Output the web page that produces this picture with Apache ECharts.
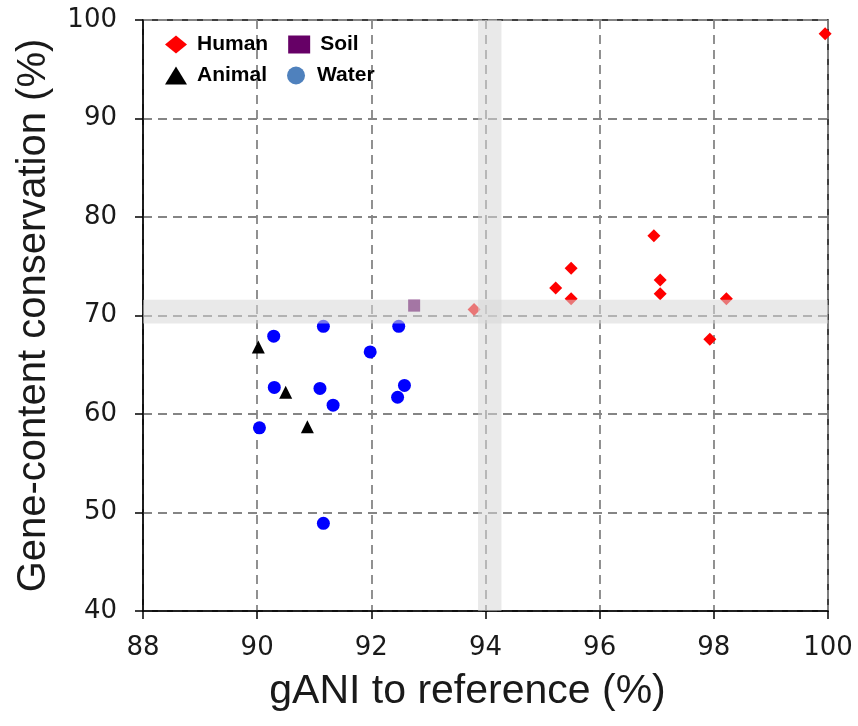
<!DOCTYPE html>
<html>
<head>
<meta charset="utf-8">
<title>Gene-content conservation vs gANI</title>
<script src="https://cdn.jsdelivr.net/npm/echarts@6/dist/echarts.min.js"></script>
<style>
  html, body { margin: 0; padding: 0; background: #fff; }
  #chart { width: 858px; height: 726px; }
</style>
</head>
<body>
<div id="chart"></div>
<script>
// [gANI %, gene-content conservation %]
const human = [
  [99.95, 98.6], [96.95, 78.1], [95.5, 74.8], [95.23, 72.8], [95.5, 71.7],
  [97.06, 73.6], [97.06, 72.2], [98.22, 71.7], [97.93, 67.6], [93.8, 70.6]
];
const soil = [[92.75, 71.0]];
const animal = [[90.02, 66.8], [90.5, 62.2], [90.88, 58.7]];
const water = [
  [90.29, 67.9], [91.16, 68.9], [92.48, 68.9], [91.98, 66.3], [90.3, 62.7],
  [91.1, 62.6], [91.33, 60.9], [92.58, 62.9], [92.46, 61.7], [90.04, 58.6],
  [91.16, 48.9]
];

// shaded threshold bands
const xBand = [93.87, 94.28];
const yBand = [69.2, 71.6];

const xTicks = { min: 88, max: 100, interval: 2 };
const yTicks = { min: 40, max: 100, interval: 10 };

const chart = echarts.init(document.getElementById('chart'));

const dashed = { show: true, lineStyle: { color: '#858585', width: 1.8, type: [9, 6] } };
const blackLine = { show: true, onZero: false, lineStyle: { color: '#000', width: 1.5 } };
const tick = { show: true, inside: false, length: 8, lineStyle: { color: '#000', width: 1.5 } };

const legendText = { fontFamily: 'Liberation Sans, Arial', fontWeight: 'bold', fontSize: 21, color: '#000', padding: [0, 0, 0, 5] };

chart.setOption({
  animation: false,
  grid: { left: 143, right: 30, top: 20, bottom: 115, show: true, borderColor: '#000', borderWidth: 1.5 },
  legend: [
    {
      left: 160, top: 29, itemWidth: 22, itemHeight: 18, itemGap: 20, symbolKeepAspect: false,
      textStyle: legendText,
      data: [
        { name: 'Human', icon: 'diamond', itemStyle: { color: '#ff0000' } },
        { name: 'Soil', icon: 'rect', itemStyle: { color: '#660066' } }
      ]
    },
    {
      left: 160, top: 60, itemWidth: 22, itemHeight: 18, itemGap: 20, symbolKeepAspect: false,
      textStyle: legendText,
      data: [
        { name: 'Animal', icon: 'triangle', itemStyle: { color: '#000' } },
        { name: 'Water', icon: 'circle', itemStyle: { color: '#4f81bd' } }
      ]
    }
  ],
  xAxis: {
    type: 'value', min: xTicks.min, max: xTicks.max, interval: xTicks.interval,
    name: 'gANI to reference (%)', nameLocation: 'middle', nameGap: 60,
    nameTextStyle: { fontFamily: 'Liberation Sans, Arial', fontSize: 41, color: '#1a1a1a', padding: [0, 36, 0, 0] },
    axisLine: blackLine, axisTick: tick, splitLine: dashed,
    axisLabel: { margin: 24, fontFamily: 'DejaVu Sans', fontSize: 26, color: '#1a1a1a' }
  },
  yAxis: {
    type: 'value', min: yTicks.min, max: yTicks.max, interval: yTicks.interval,
    name: 'Gene-content conservation (%)', nameLocation: 'middle', nameGap: 89,
    nameTextStyle: { fontFamily: 'Liberation Sans, Arial', fontSize: 40, color: '#1a1a1a' },
    axisLine: blackLine, axisTick: tick, splitLine: dashed,
    axisLabel: { margin: 26, fontFamily: 'DejaVu Sans', fontSize: 26, color: '#1a1a1a' }
  },
  series: [
    { name: 'Human', type: 'scatter', symbol: 'diamond', symbolSize: 13, itemStyle: { color: '#ff0000', opacity: 1 }, data: human },
    { name: 'Soil', type: 'scatter', symbol: 'rect', symbolSize: 12, itemStyle: { color: '#660066', opacity: 1 }, data: soil },
    { name: 'Animal', type: 'scatter', symbol: 'triangle', symbolSize: 13, itemStyle: { color: '#000', opacity: 1 }, data: animal },
    { name: 'Water', type: 'scatter', symbol: 'circle', symbolSize: 13, itemStyle: { color: '#0000ff', opacity: 1 }, data: water },
    {
      // semi-transparent bands sit on top of the points
      name: 'bands', type: 'scatter', data: [], z: 10, silent: true,
      markArea: {
        silent: true, z: 10,
        itemStyle: { color: 'rgba(215,215,215,0.55)' },
        data: [
          [{ xAxis: xBand[0] }, { xAxis: xBand[1] }],
          [{ yAxis: yBand[0] }, { yAxis: yBand[1] }]
        ]
      }
    }
  ]
});
</script>
</body>
</html>
